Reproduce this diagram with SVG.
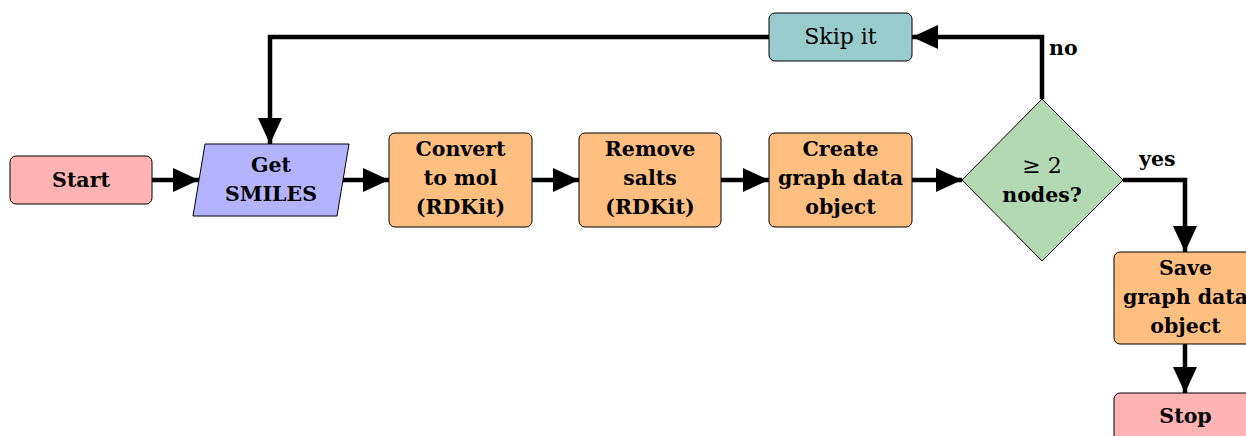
<svg xmlns="http://www.w3.org/2000/svg" width="1246" height="436" viewBox="0 0 1246 436">
  <defs>
    <marker id="arrow" markerUnits="userSpaceOnUse" markerWidth="28" markerHeight="26" refX="26" refY="12" orient="auto">
      <path d="M0,0 L26,12 L0,24 z" fill="#000"/>
    </marker>
    <style>
      .box { stroke: #000; stroke-width: 1; }
      .term { fill: #ffb3b3; }
      .io { fill: #b3b3ff; }
      .proc { fill: #ffbf80; }
      .skip { fill: #99cccc; }
      .dec { fill: #b3d9b3; }
      text { font-family: "DejaVu Serif", "Liberation Serif", serif; font-size: 20.5px; font-weight: bold; text-anchor: middle; fill: #000; }
      .reg { font-weight: normal; font-size: 22px; }
      .lbl { text-anchor: start; }
      .edge { fill: none; stroke: #000; stroke-width: 4.5; stroke-linejoin: miter; marker-end: url(#arrow); }
    </style>
  </defs>

  <g id="connectors">
    <path class="edge" d="M152,180 H199"/>
    <path class="edge" d="M343,180 H389"/>
    <path class="edge" d="M532,180 H579"/>
    <path class="edge" d="M721,180 H769"/>
    <path class="edge" d="M912,180 H962"/>
    <path class="edge" d="M1042,99 V37 H912"/>
    <path class="edge" d="M769,37 H270 V144"/>
    <path class="edge" d="M1123,180 H1185 V252"/>
    <path class="edge" d="M1185,344 V393"/>
    <text class="lbl" x="1049" y="55">no</text>
    <text class="lbl" x="1139" y="166">yes</text>
  </g>

  <g id="start">
    <rect class="box term" x="10" y="156" width="142" height="48" rx="6"/>
    <text x="81" y="187">Start</text>
  </g>

  <g id="get-smiles">
    <polygon class="box io" points="205,144 349,144 337,216 193,216"/>
    <text x="271" y="172">Get</text>
    <text x="271" y="201">SMILES</text>
  </g>

  <g id="convert">
    <rect class="box proc" x="389" y="133" width="143" height="94" rx="6"/>
    <text x="460.5" y="156">Convert</text>
    <text x="460.5" y="185">to mol</text>
    <text x="460.5" y="214">(RDKit)</text>
  </g>

  <g id="remove-salts">
    <rect class="box proc" x="579" y="133" width="142" height="94" rx="6"/>
    <text x="650" y="156">Remove</text>
    <text x="650" y="185">salts</text>
    <text x="650" y="214">(RDKit)</text>
  </g>

  <g id="create-graph">
    <rect class="box proc" x="769" y="133" width="143" height="94" rx="6"/>
    <text x="840.5" y="156">Create</text>
    <text x="840.5" y="185">graph data</text>
    <text x="840.5" y="214">object</text>
  </g>

  <g id="skip-it">
    <rect class="box skip" x="769" y="13" width="143" height="48" rx="6"/>
    <text class="reg" x="840.5" y="44">Skip it</text>
  </g>

  <g id="check-nodes">
    <polygon class="box dec" points="1042,99 1123,180 1042,261 962,180"/>
    <text class="reg" x="1042" y="173">≥ 2</text>
    <text x="1042" y="202">nodes?</text>
  </g>

  <g id="save-graph">
    <rect class="box proc" x="1114" y="252" width="143" height="92" rx="6"/>
    <text x="1185.5" y="275">Save</text>
    <text x="1185.5" y="304">graph data</text>
    <text x="1185.5" y="333">object</text>
  </g>

  <g id="stop">
    <rect class="box term" x="1114" y="393" width="143" height="48" rx="6"/>
    <text x="1185.5" y="423">Stop</text>
  </g>
</svg>
